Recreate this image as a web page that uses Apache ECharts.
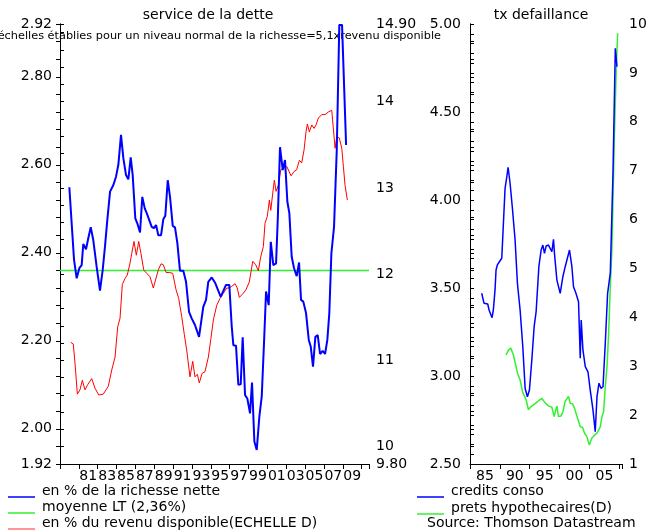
<!DOCTYPE html>
<html><head><meta charset="utf-8">
<script src="https://cdn.jsdelivr.net/npm/echarts@6/dist/echarts.min.js"></script>
<style>html,body{margin:0;padding:0;background:#fff}#c{width:653px;height:532px}</style>
</head><body><div id="c"></div>
<script>
// ---------- text ----------
const leftTitle = 'service de la dette';
const rightTitle = 'tx defaillance';
const leftNote = 'échelles établies pour un niveau normal de la richesse=5,1xrevenu disponible';
const sourceText = 'Source: Thomson Datastream';
const leftNames = ['en % de la richesse nette', 'moyenne LT (2,36%)', 'en % du revenu disponible(ECHELLE D)'];
const rightNames = ['credits conso', 'prets hypothecaires(D)'];

// ---------- left panel: service de la dette ----------
const netWorthYears = [
1979.49,1979.99,1980.27,1980.55,1980.80,1980.97,1981.26,1981.50,1981.76,1982.03,
1982.39,1982.74,1983.03,1983.27,1983.52,1983.81,1984.16,1984.44,1984.69,1984.97,
1985.22,1985.50,1985.75,1986.00,1986.21,1986.49,1986.70,1986.99,1987.23,1987.49,
1987.70,1987.91,1988.23,1988.47,1988.69,1988.93,1989.22,1989.46,1989.67,1989.93,
1990.17,1990.46,1990.70,1990.95,1991.23,1991.58,1991.87,1992.19,1992.47,1992.82,
1993.25,1993.70,1993.99,1994.23,1994.60,1994.95,1995.55,1996.11,1996.46,1996.72,
1996.89,1997.17,1997.42,1997.67,1997.88,1998.13,1998.37,1998.66,1998.87,1999.12,
1999.37,1999.65,1999.90,2000.14,2000.36,2000.64,2000.86,2001.13,2001.42,2001.60,
2001.84,2002.13,2002.37,2002.62,2002.83,2003.08,2003.33,2003.61,2003.86,2004.07,
2004.31,2004.60,2004.89,2005.10,2005.34,2005.59,2005.84,2006.09,2006.37,2006.62,
2006.86,2007.07,2007.29,2007.57,2007.86,2008.13,2008.42,2008.85];
const netWorthValues = [
2.549,2.384,2.342,2.365,2.372,2.420,2.408,2.433,2.458,2.429,
2.368,2.314,2.361,2.414,2.475,2.539,2.554,2.573,2.600,2.668,
2.615,2.577,2.567,2.617,2.577,2.478,2.467,2.446,2.527,2.501,
2.490,2.493,2.459,2.456,2.463,2.440,2.440,2.476,2.484,2.565,
2.527,2.461,2.458,2.422,2.359,2.359,2.334,2.266,2.251,2.236,
2.209,2.277,2.293,2.334,2.344,2.332,2.300,2.327,2.327,2.232,
2.190,2.189,2.100,2.101,2.208,2.077,2.069,2.035,2.105,1.971,
1.952,2.028,2.073,2.194,2.312,2.281,2.425,2.372,2.376,2.475,
2.640,2.588,2.611,2.516,2.490,2.391,2.365,2.347,2.378,2.293,
2.289,2.263,2.202,2.187,2.141,2.209,2.213,2.170,2.177,2.170,
2.202,2.263,2.399,2.459,2.634,2.918,2.918,2.645];
const ltAverage = 2.36;
const incomeYears = [
1979.64,1979.91,1980.09,1980.34,1980.62,1980.87,1981.15,1981.44,1981.86,1982.21,
1982.61,1983.09,1983.62,1983.99,1984.34,1984.62,1984.87,1985.11,1985.40,1985.64,
1985.93,1986.11,1986.35,1986.60,1986.85,1987.09,1987.38,1987.70,1988.05,1988.40,
1988.61,1988.93,1989.22,1989.46,1989.75,1990.10,1990.46,1990.81,1991.09,1991.41,
1991.69,1991.94,1992.29,1992.58,1992.82,1993.07,1993.28,1993.57,1993.88,1994.24,
1994.49,1994.77,1995.13,1995.48,1995.83,1996.19,1996.46,1996.72,1997.07,1997.31,
1997.52,1997.95,1998.23,1998.58,1998.95,1999.26,1999.54,1999.79,2000.07,2000.25,
2000.49,2000.71,2000.86,2001.07,2001.24,2001.42,2001.66,2001.92,2002.19,2002.55,
2003.01,2003.33,2003.61,2003.89,2004.14,2004.39,2004.60,2004.74,2004.95,2005.21,
2005.45,2005.66,2005.91,2006.27,2006.62,2006.97,2007.33,2007.50,2007.68,2007.86,
2008.13,2008.39,2008.56,2008.74,2008.98];
const incomeValues = [
11.21,11.19,10.97,10.61,10.66,10.77,10.66,10.72,10.79,10.68,
10.60,10.61,10.70,10.89,11.04,11.39,11.49,11.88,11.95,11.99,
12.13,12.24,12.38,12.22,12.38,12.24,12.05,12.01,11.97,11.84,
11.83,12.05,12.12,12.11,12.02,12.02,12.01,11.82,11.72,11.51,
11.30,11.12,10.81,10.99,10.81,10.84,10.74,10.85,10.87,11.04,
11.24,11.47,11.64,11.72,11.78,11.84,11.84,11.86,11.89,11.84,
11.73,11.78,11.82,11.91,12.15,12.11,12.04,12.20,12.32,12.59,
12.67,12.86,12.74,12.94,13.09,12.96,13.03,13.21,13.23,13.25,
13.14,13.19,13.21,13.32,13.29,13.44,13.65,13.74,13.65,13.73,
13.69,13.73,13.81,13.85,13.85,13.88,13.90,13.88,13.46,13.59,
13.58,13.46,13.25,13.03,12.86];
const leftXStart = 1978.5, leftXEnd = 2011.28;
const leftYearTicks = [1981.5,1983.5,1985.5,1987.5,1989.5,1991.5,1993.5,1995.5,1997.5,1999.5,2001.5,2003.5,2005.5,2007.5,2009.5];
const leftYearLabels = ['81','83','85','87','89','91','93','95','97','99','01','03','05','07','09'];
const netScaleValues = [1.92, 2.00, 2.20, 2.40, 2.60, 2.80, 2.92];
const netScaleLabels = ['1.92','2.00','2.20','2.40','2.60','2.80','2.92'];
const incomeScaleValues = [9.8, 10, 11, 12, 13, 14, 14.9];
const incomeScaleLabels = ['9.80','10','11','12','13','14','14.90'];

// ---------- right panel: tx defaillance ----------
const consoYears = [
1984.96,1985.35,1985.68,1985.97,1986.19,1986.47,1986.69,1986.91,1987.19,1987.36,
1987.58,1987.92,1988.32,1988.49,1988.87,1989.16,1989.38,1989.71,1990.10,1990.55,
1990.94,1991.39,1991.84,1992.23,1992.61,1992.95,1993.35,1993.74,1994.07,1994.53,
1994.91,1995.20,1995.47,1995.75,1996.14,1996.42,1996.71,1996.98,1997.14,1997.55,
1998.10,1998.55,1998.94,1999.22,1999.66,2000.06,2000.33,2000.74,2001.17,2001.46,
2001.62,2001.91,2002.30,2002.75,2003.13,2003.59,2003.97,2004.26,2004.59,2004.93,
2005.27,2005.65,2006.04,2006.49,2006.94,2007.33,2007.61];
const consoValues = [
3.470,3.413,3.409,3.409,3.375,3.365,3.331,3.375,3.489,3.602,
3.631,3.649,3.669,3.678,4.066,4.132,4.186,4.095,3.953,3.773,
3.527,3.375,3.166,2.930,2.882,2.920,3.091,3.280,3.365,3.621,
3.716,3.744,3.697,3.739,3.744,3.750,3.706,3.777,3.697,3.545,
3.470,3.564,3.621,3.631,3.716,3.621,3.507,3.470,3.422,3.101,
3.318,3.148,3.053,3.024,2.920,2.807,2.684,2.882,2.959,2.930,
2.939,3.186,3.470,3.584,4.152,4.862,4.757];
const mortgageYears = [
1989.04,1989.43,1989.83,1990.27,1990.72,1990.94,1991.39,1991.78,1992.06,1992.40,
1992.78,1993.18,1993.62,1994.07,1994.63,1995.03,1995.58,1996.14,1996.71,1997.09,
1997.38,1997.55,1997.82,1998.22,1998.55,1998.94,1999.22,1999.49,1999.78,2000.16,
2000.50,2000.90,2001.17,2001.46,2001.84,2002.18,2002.58,2002.97,2003.42,2003.86,
2004.26,2004.53,2004.81,2005.10,2005.37,2005.65,2005.94,2006.21,2006.49,2006.78,
2007.16,2007.50,2007.72];
const mortgageValues = [
3.23,3.33,3.37,3.23,2.99,2.86,2.72,2.48,2.45,2.31,
2.11,2.17,2.21,2.25,2.31,2.34,2.25,2.19,2.16,1.97,
1.94,2.19,1.97,1.98,2.07,2.28,2.28,2.38,2.24,2.23,
2.14,1.98,1.97,1.76,1.75,1.63,1.56,1.39,1.53,1.59,
1.63,1.59,1.76,1.97,2.07,2.58,2.99,3.67,4.63,5.45,
7.63,9.13,9.81];
const rightXStart = 1983, rightXEnd = 2008.45;
const rightYearTicks = [1985.5, 1990.5, 1995.5, 2000.5, 2005.5];
const rightYearLabels = ['85','90','95','00','05'];
const consoScaleValues = [2.5, 3.0, 3.5, 4.0, 4.5, 5.0];
const consoScaleLabels = ['2.50','3.00','3.50','4.00','4.50','5.00'];
const mortgageScaleValues = [1,2,3,4,5,6,7,8,9,10];
const mortgageScaleLabels = ['1','2','3','4','5','6','7','8','9','10'];

// ---------- build ----------
const FONT = 'DejaVu Sans';
const BLUE = '#0000ff', GREEN = '#33f033', RED = '#ff0000';
function pick(vals, labels, v) {
  for (let i = 0; i < vals.length; i++) if (Math.abs(vals[i] - v) < 1e-6) return labels[i];
  return '';
}
function zip(xs, ys, off) { return xs.map((x, i) => [x - off, ys[i]]); }
const lMax = leftXEnd - leftXStart, rMax = rightXEnd - rightXStart;
const axisLine = { show: true, lineStyle: { color: '#000', width: 1 } };
const lblStyle = { color: '#000', fontFamily: FONT, fontSize: 14 };

function yAxis(grid, pos, min, max, interval, vals, labels, inside, margin) {
  return {
    type: 'value', gridIndex: grid, position: pos, min, max, interval,
    axisLine, splitLine: { show: false },
    axisTick: { show: true, inside: !!inside, length: 4, lineStyle: { color: '#000' } },
    axisLabel: Object.assign({ margin, padding: [0, 0, 7, 0],
      formatter: v => pick(vals, labels, v) }, lblStyle)
  };
}
function xTickAxis(grid, max, interval) {
  return { type: 'value', gridIndex: grid, position: 'bottom', min: 0, max, interval,
    axisLine, splitLine: { show: false },
    axisTick: { show: true, length: 5, lineStyle: { color: '#000' } },
    axisLabel: { show: false } };
}
function xLabelAxis(grid, max, interval, off, ticks, labels) {
  return { type: 'value', gridIndex: grid, position: 'bottom', min: 0, max, interval,
    axisLine: { show: false }, axisTick: { show: false }, splitLine: { show: false },
    axisLabel: Object.assign({ margin: 5, showMinLabel: true, showMaxLabel: true,
      formatter: v => pick(ticks.map(t => t - off), labels, v) }, lblStyle) };
}
function line(name, xi, yi, data, color, width) {
  return { type: 'line', name, xAxisIndex: xi, yAxisIndex: yi, data, showSymbol: false,
    symbol: 'none', lineStyle: { color, width }, itemStyle: { color }, clip: true };
}
function legendItem(x, y, color, name, w, alpha) {
  return [
    { type: 'line', shape: { x1: x, y1: y, x2: x + 27, y2: y },
      style: { stroke: color, lineWidth: w, opacity: alpha || 1 } },
    { type: 'text', x: x + 34, y: y - 5.5,
      style: { text: name, fill: '#000', fontFamily: FONT, fontSize: 14, align: 'left', verticalAlign: 'middle' } }
  ];
}

const chart = echarts.init(document.getElementById('c'), null, { renderer: 'canvas' });
chart.setOption({
  animation: false,
  backgroundColor: '#fff',
  title: [
    { text: leftTitle, left: 208, top: 8, padding: 0, textAlign: 'center',
      textStyle: { fontFamily: FONT, fontSize: 14, fontWeight: 'normal', color: '#000' } },
    { text: rightTitle, left: 541, top: 8, padding: 0, textAlign: 'center',
      textStyle: { fontFamily: FONT, fontSize: 14, fontWeight: 'normal', color: '#000' } }
  ],
  grid: [
    { left: 60, top: 24, width: 309, height: 440 },
    { left: 470, top: 24, width: 152, height: 440 }
  ],
  xAxis: [
    xTickAxis(0, lMax, 2),
    xLabelAxis(0, lMax, 1, leftXStart, leftYearTicks, leftYearLabels),
    xTickAxis(1, rMax, 5),
    xLabelAxis(1, rMax, 2.5, rightXStart, rightYearTicks, rightYearLabels)
  ],
  yAxis: [
    yAxis(0, 'left', 1.92, 2.92, 0.04, netScaleValues, netScaleLabels, false, 8),
    yAxis(0, 'right', 9.8, 14.9, 0.2, incomeScaleValues, incomeScaleLabels, false, 7),
    yAxis(1, 'left', 2.5, 5.0, 0.1, consoScaleValues, consoScaleLabels, true, 9),
    yAxis(1, 'right', 1, 10, 0.2, mortgageScaleValues, mortgageScaleLabels, false, 7)
  ],
  series: [
    line(leftNames[1], 0, 0, [[0, ltAverage], [lMax, ltAverage]], GREEN, 1.5),
    line(leftNames[2], 0, 1, zip(incomeYears, incomeValues, leftXStart), RED, 1),
    line(leftNames[0], 0, 0, zip(netWorthYears, netWorthValues, leftXStart), BLUE, 2),
    line(rightNames[1], 2, 3, zip(mortgageYears, mortgageValues, rightXStart), GREEN, 1.5),
    line(rightNames[0], 2, 2, zip(consoYears, consoValues, rightXStart), BLUE, 1.5)
  ],
  graphic: [
    { type: 'text', x: 441, y: 36,
      style: { text: leftNote, fill: '#000', fontFamily: FONT, fontSize: 11.3, align: 'right', verticalAlign: 'middle' } },
    ...legendItem(8, 497, BLUE, leftNames[0], 1.5),
    ...legendItem(8, 513, GREEN, leftNames[1], 1.5),
    ...legendItem(8, 529, RED, leftNames[2], 1.5, 0.55),
    ...legendItem(417, 497, BLUE, rightNames[0], 1.5),
    ...legendItem(417, 514, GREEN, rightNames[1], 1.5),
    { type: 'text', x: 427, y: 523,
      style: { text: sourceText, fill: '#000', fontFamily: FONT, fontSize: 14, align: 'left', verticalAlign: 'middle' } }
  ]
});
</script></body></html>
